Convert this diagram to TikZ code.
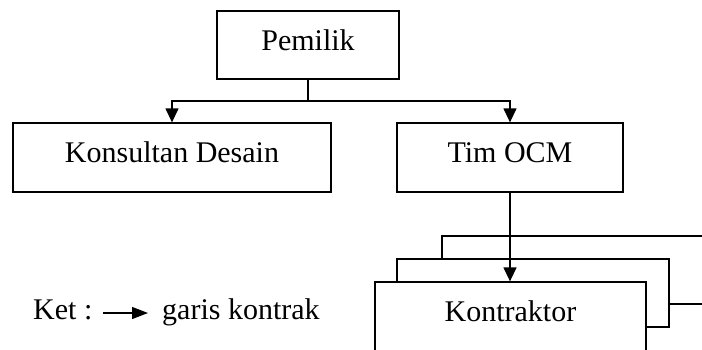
\documentclass[tikz,border=0pt]{standalone}
\usepackage{fontspec}
\setmainfont{Liberation Serif}
\usetikzlibrary{arrows.meta}

\tikzset{
  box/.style={draw, line width=1.3pt, fill=white, inner sep=0pt,
    text height=20pt, text depth=10pt},
  link/.style={line width=1.3pt, -{Triangle[length=14pt,width=13pt]}},
  legendarrow/.style={line width=1.3pt, -{Triangle[length=16pt,width=12pt]}},
  plain/.style={line width=1.3pt},
  legendtext/.style={inner sep=0pt, anchor=base west}
}

\begin{document}
\begin{tikzpicture}[x=1pt, y=-1pt, font=\fontsize{30pt}{36pt}\selectfont]
  \useasboundingbox (0,0) rectangle (702,349);
  \clip (0,0) rectangle (702,349);

  % top level
  \node[box, minimum width=182pt, minimum height=68pt] (pemilik) at (308,45) {Pemilik};

  % second level
  \node[box, minimum width=318pt, minimum height=69pt] (konsultan) at (172,157.5) {Konsultan Desain};
  \node[box, minimum width=226pt, minimum height=69pt] (ocm) at (510,157.5) {Tim OCM};

  % stacked contractor boxes, back to front
  \node[box, minimum width=272pt, minimum height=68pt] (kontrakC) at (578,270) {};
  \node[box, minimum width=272pt, minimum height=68pt] (kontrakB) at (533,293) {};
  \node[box, minimum width=271pt, minimum height=74pt, text height=14pt]
    (kontrakA) at (510.5,319) {Kontraktor};

  % contract lines
  \coordinate (split) at (308,101);
  \draw[plain] (pemilik.south) -- (split);
  \draw[link] (split) -| (konsultan.north);
  \draw[link] (split) -| (ocm.north);
  \draw[link] (ocm.south) -- (ocm.south |- kontrakA.north);

  % legend
  \node[legendtext] (ket) at (33,319) {Ket :};
  \coordinate (la) at (103,313);
  \coordinate (lb) at (148,313);
  \draw[legendarrow] (la) -- (lb);
  \node[legendtext] (garis) at (162,319) {garis kontrak};
\end{tikzpicture}
\end{document}
